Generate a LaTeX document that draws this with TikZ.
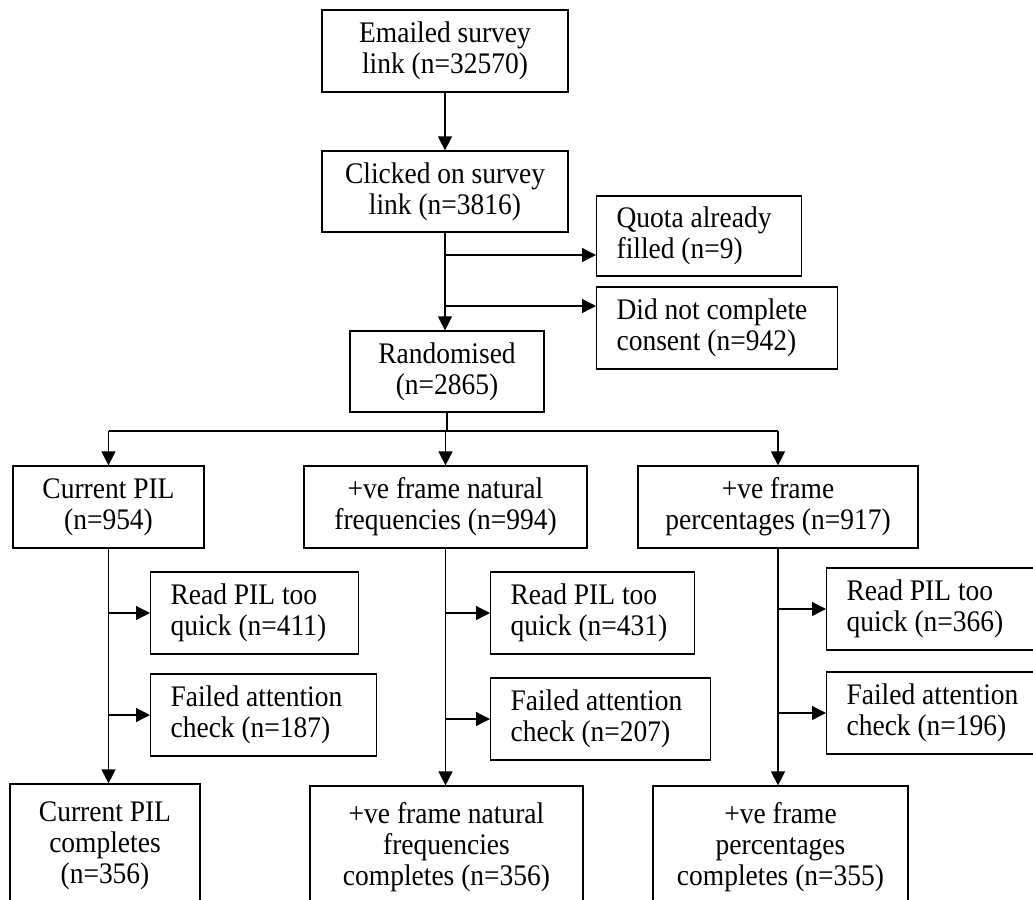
\documentclass[tikz,border=0pt]{standalone}
\usepackage{fontspec}
\setmainfont{Liberation Serif}[FakeStretch=0.92]
\usetikzlibrary{arrows.meta}

\begin{document}
\begin{tikzpicture}[x=0.02cm,y=-0.02cm,line width=0.7pt,
    every node/.style={font=\fontsize{17}{17.6}\selectfont},
    mainbox/.style={draw,align=center,inner sep=0pt,minimum height=1.64cm},
    sidebox/.style={draw,align=flush left,anchor=west,inner xsep=0.4cm,inner ysep=0pt,minimum height=1.64cm},
    arr/.style={-{Triangle[length=0.28cm,width=0.28cm]}}]
  \useasboundingbox (0,0) rectangle (1033,899); \clip (0,0) rectangle (1033,899);
  \node[mainbox,minimum width=4.92cm] (email) at (445,51) {Emailed survey\\link (n=32570)};
  \node[mainbox,minimum width=4.92cm,minimum height=1.62cm] (click) at (445,191.5) {Clicked on survey\\link (n=3816)};
  \node[sidebox,text width=3.3cm,minimum height=1.6cm] (quota) at (596,236) {Quota already\\filled (n=9)};
  \node[sidebox,text width=4.02cm] (consent) at (596,328) {Did not complete\\consent (n=942)};
  \node[mainbox,minimum width=3.88cm,minimum height=1.62cm] (rand) at (447,371.5) {Randomised\\(n=2865)};
  \node[mainbox,minimum width=3.82cm] (cur) at (108.5,507) {Current PIL\\(n=954)};
  \node[mainbox,minimum width=5.66cm] (nat) at (445.5,507) {+ve frame natural\\frequencies (n=994)};
  \node[mainbox,minimum width=5.6cm] (pct) at (778,507) {+ve frame\\percentages (n=917)};
  \node[sidebox,text width=3.36cm] (curquick) at (150,613) {Read PIL too\\quick (n=411)};
  \node[sidebox,text width=3.72cm] (curfail) at (150,715) {Failed attention\\check (n=187)};
  \node[sidebox,text width=3.28cm] (natquick) at (490,613) {Read PIL too\\quick (n=431)};
  \node[sidebox,text width=3.6cm] (natfail) at (490,719) {Failed attention\\check (n=207)};
  \node[sidebox,text width=3.6cm] (pctquick) at (826,609) {Read PIL too\\quick (n=366)};
  \node[sidebox,text width=3.6cm] (pctfail) at (826,713) {Failed attention\\check (n=196)};
  \node[mainbox,minimum width=3.8cm,minimum height=2.48cm] (curend) at (105,846) {Current PIL\\completes\\(n=356)};
  \node[mainbox,minimum width=5.46cm,minimum height=2.44cm] (natend) at (446.5,847) {+ve frame natural\\frequencies\\completes (n=356)};
  \node[mainbox,minimum width=5.1cm,minimum height=2.44cm] (pctend) at (780.5,847) {+ve frame\\percentages\\completes (n=355)};
  \coordinate (toquota) at (445,255); \coordinate (toconsent) at (445,306); \coordinate (split) at (447,431);
  \draw[arr] (email) -- (click);
  \draw[arr] (click.south) -- (click.south |- rand.north);
  \draw[arr] (toquota) -- (toquota -| quota.west); \draw[arr] (toconsent) -- (toconsent -| consent.west);
  \draw (rand.south) -- (split); \draw (cur.north |- split) -- (pct.north |- split);
  \foreach \arm in {cur,nat,pct}
    {\draw[arr] (\arm.north |- split) -- (\arm.north);
     \draw[arr] (\arm.south) -- (\arm.south |- \arm end.north);
     \draw[arr] (\arm.south |- \arm quick.west) -- (\arm quick.west);
     \draw[arr] (\arm.south |- \arm fail.west) -- (\arm fail.west);}
\end{tikzpicture}
\end{document}
